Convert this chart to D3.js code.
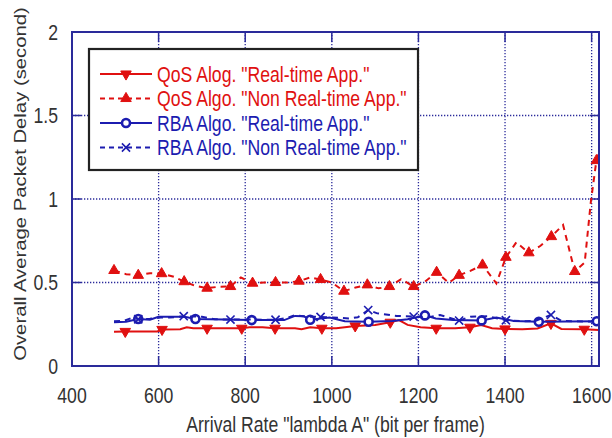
<!DOCTYPE html>
<html>
<head>
<meta charset="utf-8">
<script src="https://cdn.jsdelivr.net/npm/d3@7/dist/d3.min.js"></script>
<style>
  body { margin: 0; background: #fff; }
  svg { display: block; }
</style>
</head>
<body>
<svg id="chart" width="612" height="438"></svg>
<script>
  // Axis setup
  const xTicks = [400, 600, 800, 1000, 1200, 1400, 1600];
  const yTicks = [0, 0.5, 1, 1.5, 2];
  const yTickLabels = ['0', '0.5', '1', '1.5', '2'];
  const xDomain = [400, 1617];
  const yDomain = [0, 2];

  const xTitle = 'Arrival Rate "lambda A" (bit per frame)';
  const yTitle = 'Overall Average Packet Delay (second)';

  // [x, delay, hasMarker]
  const qosRealTime = [
    [497, 0.205, 0], [523, 0.207, 1], [597, 0.207, 0], [608, 0.219, 1], [650, 0.22, 0],
    [665, 0.232, 0], [680, 0.226, 0], [712, 0.226, 1], [760, 0.226, 0], [792, 0.226, 1],
    [810, 0.232, 0], [840, 0.232, 0], [869, 0.226, 1], [915, 0.226, 0], [930, 0.22, 0],
    [950, 0.232, 0], [977, 0.226, 1], [1010, 0.226, 0], [1030, 0.232, 0], [1054, 0.24, 1],
    [1100, 0.246, 0], [1135, 0.262, 1], [1155, 0.275, 0], [1175, 0.246, 0], [1205, 0.232, 0],
    [1241, 0.226, 1], [1285, 0.226, 0], [1319, 0.232, 1], [1345, 0.245, 0], [1370, 0.226, 0],
    [1400, 0.222, 1], [1440, 0.22, 0], [1475, 0.225, 0], [1506, 0.255, 1], [1530, 0.222, 0],
    [1583, 0.22, 1], [1617, 0.215, 0]
  ];

  const qosNonRealTime = [
    [497, 0.572, 1], [525, 0.55, 0], [553, 0.543, 1], [580, 0.556, 0], [607, 0.553, 1],
    [635, 0.535, 0], [659, 0.505, 1], [685, 0.48, 0], [712, 0.466, 1], [740, 0.475, 0],
    [766, 0.476, 1], [790, 0.53, 0], [817, 0.496, 1], [845, 0.5, 0], [870, 0.5, 1],
    [898, 0.5, 0], [924, 0.508, 1], [950, 0.53, 0], [974, 0.518, 1], [1000, 0.5, 0],
    [1028, 0.448, 1], [1055, 0.47, 0], [1082, 0.486, 1], [1108, 0.465, 0], [1133, 0.476, 1],
    [1160, 0.52, 0], [1189, 0.476, 1], [1215, 0.505, 0], [1242, 0.561, 1], [1270, 0.498, 0],
    [1294, 0.543, 1], [1320, 0.57, 0], [1348, 0.605, 1], [1380, 0.495, 0], [1402, 0.651, 1],
    [1426, 0.74, 0], [1455, 0.678, 1], [1482, 0.72, 0], [1507, 0.775, 1], [1534, 0.845, 0],
    [1561, 0.566, 1], [1584, 0.62, 0], [1598, 0.98, 0], [1611, 1.23, 1], [1620, 1.32, 0]
  ];

  const rbaRealTime = [
    [497, 0.262, 0], [525, 0.265, 0], [553, 0.281, 1], [580, 0.277, 0], [600, 0.295, 0],
    [660, 0.295, 0], [685, 0.281, 1], [750, 0.278, 0], [815, 0.275, 1], [890, 0.275, 0],
    [915, 0.3, 0], [935, 0.298, 0], [950, 0.277, 1], [995, 0.29, 0], [1030, 0.268, 0],
    [1085, 0.265, 1], [1140, 0.27, 0], [1175, 0.28, 0], [1215, 0.303, 1], [1240, 0.285, 0],
    [1280, 0.275, 0], [1346, 0.273, 1], [1380, 0.29, 0], [1420, 0.27, 0], [1478, 0.265, 1],
    [1612, 0.268, 1], [1617, 0.268, 0]
  ];

  const rbaNonRealTime = [
    [497, 0.268, 0], [520, 0.27, 0], [540, 0.29, 0], [553, 0.28, 1], [580, 0.283, 0],
    [605, 0.29, 0], [625, 0.29, 0], [658, 0.298, 1], [700, 0.295, 0], [730, 0.28, 0],
    [766, 0.278, 1], [820, 0.278, 0], [870, 0.277, 1], [900, 0.29, 0], [915, 0.305, 0],
    [940, 0.295, 0], [974, 0.294, 1], [1000, 0.29, 0], [1040, 0.285, 0], [1060, 0.292, 0],
    [1084, 0.335, 1], [1105, 0.315, 0], [1150, 0.3, 0], [1189, 0.296, 1], [1220, 0.29, 0],
    [1250, 0.305, 0], [1294, 0.272, 1], [1320, 0.295, 0], [1360, 0.298, 0], [1402, 0.274, 1],
    [1440, 0.268, 0], [1470, 0.27, 0], [1506, 0.306, 1], [1530, 0.27, 0], [1617, 0.265, 0]
  ];

  const seriesLabels = [
    'QoS Alog. "Real-time App."',
    'QoS Algo. "Non Real-time App."',
    'RBA Algo. "Real-time App."',
    'RBA Algo. "Non Real-time App."'
  ];

  const RED = '#e01010';
  const BLUE = '#1c1cb0';
  const NAVY = '#2a2a9a';
  const FONT = '"Liberation Sans", Arial, sans-serif';
  const SQUEEZE = 0.82;

  const series = [
    { data: qosRealTime, color: RED, dash: null, marker: 'triDown' },
    { data: qosNonRealTime, color: RED, dash: '6,5', marker: 'triUp' },
    { data: rbaRealTime, color: BLUE, dash: null, marker: 'circle' },
    { data: rbaNonRealTime, color: BLUE, dash: '6,5', marker: 'times' }
  ];

  const P = { left: 72, right: 599, top: 32, bottom: 366 };
  const svg = d3.select('#chart');

  const x = d3.scaleLinear().domain(xDomain).range([P.left, P.right]);
  const y = d3.scaleLinear().domain(yDomain).range([P.bottom, P.top]);

  // squeezed text like the source (narrow face)
  function label(parent, tx, ty, str, anchor, color, size, rotate) {
    const g = parent.append('g')
      .attr('transform', `translate(${tx},${ty})` + (rotate ? ' rotate(-90)' : '') +
        (rotate ? ` scale(1,${SQUEEZE})` : ` scale(${SQUEEZE},1)`));
    g.append('text')
      .attr('text-anchor', anchor)
      .attr('fill', color)
      .style('font-family', FONT)
      .style('font-size', size + 'px')
      .text(str);
    return g;
  }

  // Grid (dotted)
  const grid = svg.append('g')
    .attr('stroke', NAVY)
    .attr('stroke-width', 1.3)
    .attr('stroke-dasharray', '1.3,1.7');
  xTicks.filter(t => t > xDomain[0]).forEach(t => {
    grid.append('line').attr('x1', x(t)).attr('x2', x(t)).attr('y1', P.top).attr('y2', P.bottom);
  });
  yTicks.filter(t => t > yDomain[0] && t < yDomain[1]).forEach(t => {
    grid.append('line').attr('x1', P.left).attr('x2', P.right).attr('y1', y(t)).attr('y2', y(t));
  });

  // Inner ticks
  const ticks = svg.append('g').attr('stroke', NAVY).attr('stroke-width', 1.5);
  xTicks.forEach(t => {
    ticks.append('line').attr('x1', x(t)).attr('x2', x(t)).attr('y1', P.bottom).attr('y2', P.bottom - 10);
    ticks.append('line').attr('x1', x(t)).attr('x2', x(t)).attr('y1', P.top).attr('y2', P.top + 10);
  });
  yTicks.forEach(t => {
    ticks.append('line').attr('x1', P.left).attr('x2', P.left + 9).attr('y1', y(t)).attr('y2', y(t));
    ticks.append('line').attr('x1', P.right).attr('x2', P.right - 9).attr('y1', y(t)).attr('y2', y(t));
  });

  // Tick labels
  xTicks.forEach(t => label(svg, x(t), 403, String(t), 'middle', '#333', 21.5));
  yTicks.forEach((t, i) => label(svg, 58, y(t) + 7.5, yTickLabels[i], 'end', '#333', 21.5));

  // Axis titles
  label(svg, (P.left + P.right) / 2, 432, xTitle, 'middle', '#333', 21.5);
  label(svg, 26, 184, yTitle, 'middle', '#333', 20.3, true);

  // Series
  svg.append('clipPath').attr('id', 'plotclip')
    .append('rect')
    .attr('x', P.left).attr('y', P.top)
    .attr('width', P.right - P.left).attr('height', P.bottom - P.top);

  const plot = svg.append('g').attr('clip-path', 'url(#plotclip)');
  const line = d3.line().x(d => x(d[0])).y(d => y(d[1]));

  function drawMarker(g, type, cx, cy, color) {
    if (type === 'circle') {
      g.append('circle').attr('cx', cx).attr('cy', cy).attr('r', 4)
        .attr('fill', '#fff').attr('stroke', color).attr('stroke-width', 2.6);
    } else if (type === 'times') {
      g.append('path').attr('d', d3.symbol().type(d3.symbolTimes).size(45)())
        .attr('transform', `translate(${cx},${cy})`)
        .attr('fill', 'none').attr('stroke', color).attr('stroke-width', 1.6);
    } else {
      g.append('path').attr('d', d3.symbol().type(d3.symbolTriangle).size(48)())
        .attr('transform', `translate(${cx},${cy})` + (type === 'triDown' ? ' rotate(180)' : ''))
        .attr('fill', color).attr('stroke', color).attr('stroke-width', 1);
    }
  }

  series.forEach(s => {
    plot.append('path')
      .datum(s.data)
      .attr('d', line)
      .attr('fill', 'none')
      .attr('stroke', s.color)
      .attr('stroke-width', 2)
      .attr('stroke-dasharray', s.dash);
    s.data.filter(d => d[2]).forEach(d => drawMarker(plot, s.marker, x(d[0]), y(d[1]), s.color));
  });

  // Frame
  svg.append('rect')
    .attr('x', P.left).attr('y', P.top)
    .attr('width', P.right - P.left).attr('height', P.bottom - P.top)
    .attr('fill', 'none').attr('stroke', NAVY).attr('stroke-width', 2);

  // Legend
  const lg = svg.append('g');
  lg.append('rect')
    .attr('x', 89).attr('y', 49).attr('width', 329).attr('height', 121)
    .attr('fill', '#fff').attr('stroke', '#222').attr('stroke-width', 2.2);
  series.forEach((s, i) => {
    const cy = 74 + i * 24.5;
    lg.append('line').attr('x1', 100).attr('x2', 152).attr('y1', cy).attr('y2', cy)
      .attr('stroke', s.color).attr('stroke-width', 2)
      .attr('stroke-dasharray', s.dash ? '5,4' : null);
    drawMarker(lg, s.marker, 126, cy, s.color);
    label(lg, 157, cy + 7.5, seriesLabels[i], 'start', s.color, 21.5);
  });
</script>
</body>
</html>
